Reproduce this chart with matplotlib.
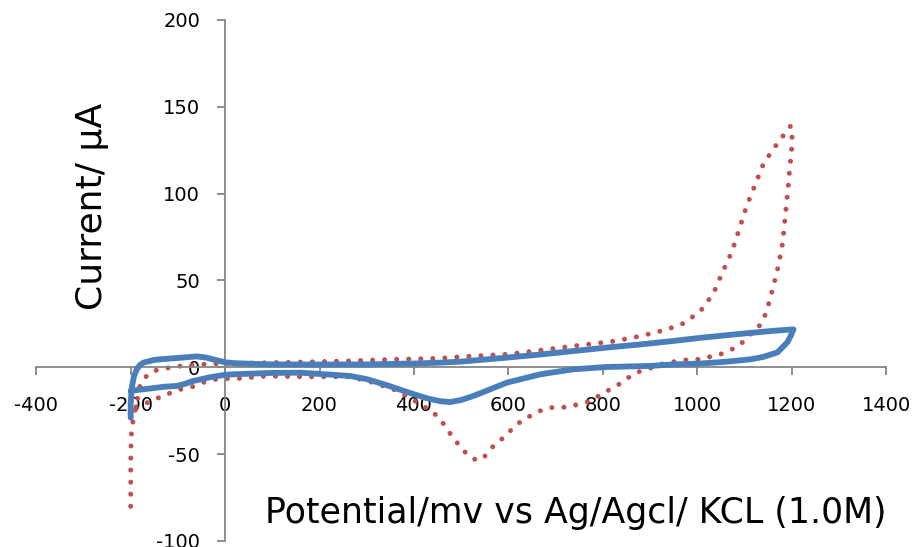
import matplotlib
matplotlib.use("Agg")
import matplotlib.pyplot as plt

# Blue solid CV loop (potential mV, current uA)
blue_x = [-200, -200, -198, -193, -187, -180, -173, -150, -120, -90, -60, -40, -20, 0, 20, 60, 100, 200, 300, 400, 456, 500,
          597, 668, 738, 809, 880, 950, 1007, 1100, 1160, 1200, 1204,
          1198, 1191, 1170, 1140, 1113, 1060, 1007, 950, 901, 809, 738, 668, 597, 560, 526, 500, 477, 456, 430, 400,
          370, 343, 300, 265, 200, 159, 100, 18, 0, -32, -50, -68, -85, -102, -130, -159, -180, -200]
blue_y = [-29, -21, -12, -5, -1.1, 1.5, 2.7, 4.3, 5.0, 5.6, 6.3, 5.6, 4.2, 2.9, 2.4, 2.0, 1.7, 1.6, 1.7, 2.2, 2.7, 3.3,
          5.6, 7.4, 9.4, 11.4, 13.2, 15.2, 17.0, 19.5, 21.0, 21.8, 21.8,
          18, 14.4, 8.6, 6.0, 4.6, 3.2, 2.2, 1.7, 0.8, 0.2, -1.1, -4.0, -8.8, -12.8, -16.5, -18.8, -20.0, -19.5, -18, -15.5,
          -12.8, -10.3, -6.8, -5.0, -3.8, -3.1, -3.2, -4.0, -4.3, -5.7, -6.8, -7.9, -9.5, -10.7, -11.2, -12.2, -12.8, -13.6]

# Red dotted CV loop
red_x = [-200, -200, -199, -197, -193, -187, -180, -165, -152, -125, -100, -60, -32, 0, 50, 88, 159, 250, 364, 456, 498,
         597, 682, 738, 823, 880, 936, 975, 1011, 1035, 1053, 1074, 1090, 1105, 1124, 1141, 1170, 1198,
         1201, 1201, 1199, 1196, 1194, 1192, 1189, 1187, 1184, 1182, 1178, 1173, 1168, 1161, 1155, 1147, 1140, 1126,
         1106, 1092, 1071, 1049, 1027, 1006, 986, 958, 922, 894, 873, 848, 830, 809, 788, 767, 738, 717, 696, 675,
         654, 632, 611, 590, 569, 551, 534, 512, 484, 456, 441, 400, 360, 314, 265, 159, 89, 25, -11, -40, -67, -100,
         -141, -159, -175, -190]
red_y = [-80, -55, -40, -33.7, -28, -20, -10, -4.5, -2.1, -0.5, 0.6, 1.5, 2.0, 2.2, 2.4, 2.6, 3.0, 3.6, 4.6, 5.2, 6.1,
         7.5, 10.3, 12.3, 15.0, 18.0, 21.8, 25.7, 33.7, 42.9, 54.4, 66.9, 80.3, 93.1, 106, 117.6, 129, 139,
         135.8, 129, 121.8, 114.7, 108, 101.3, 94.3, 87.4, 80.7, 73.6, 66.9, 60.2, 53.4, 46.7, 39.7, 32.9, 27.0, 21.8,
         17.6, 13.2, 10.0, 7.5, 6.1, 4.6, 4.6, 3.6, 1.7, -1.1, -2.9, -6.9, -10.7, -13.6, -17, -20, -22, -23, -23, -24,
         -27, -29.9, -34.7, -40.4, -45, -51, -53.8, -50, -41, -30, -26, -19, -13, -8.8, -5.4, -5.4, -5.0, -6.5, -6.4, -8.0, -11, -13,
         -17.5, -20, -21, -23]

x_ticks = [-400, -200, 0, 200, 400, 600, 800, 1000, 1200, 1400]
y_ticks = [-100, -50, 0, 50, 100, 150, 200]

fig = plt.figure(figsize=(9.16, 5.47), dpi=100)
ax = fig.add_axes([36.3 / 916, 1 - 541 / 547, (886 - 36.3) / 916, (541 - 20) / 547])

ax.plot(red_x, red_y, color="#C0504D", lw=3.6, linestyle=(0, (0.01, 2.4)),
        dash_capstyle="round", solid_capstyle="round", zorder=2)
ax.plot(blue_x, blue_y, color="#4A7EBB", lw=4.2, solid_capstyle="round",
        solid_joinstyle="round", zorder=3)

ax.set_xlim(-400, 1400)
ax.set_ylim(-100, 200)
ax.set_xticks(x_ticks)
ax.set_yticks(y_ticks)
ax.set_xticklabels([str(v) for v in x_ticks])
ax.set_yticklabels([str(v) for v in y_ticks])

for s in ["top", "right"]:
    ax.spines[s].set_visible(False)
ax.spines["left"].set_position(("data", 0))
ax.spines["bottom"].set_position(("data", 0))
for s in ["left", "bottom"]:
    ax.spines[s].set_color("#868686")
    ax.spines[s].set_linewidth(1.3)

ax.tick_params(axis="both", direction="out", length=6, width=1.3, color="#868686",
               labelsize=14, labelcolor="#000000")
ax.tick_params(axis="x", pad=15)
ax.tick_params(axis="y", pad=12)
ax.patch.set_alpha(0)

fig.text(92 / 916, 1 - 206 / 547, "Current/ μA", rotation=90, ha="center", va="center",
         fontsize=26, color="#000000")
fig.text(576 / 916, 1 - 513 / 547, "Potential/mv vs Ag/Agcl/ KCL (1.0M)", ha="center", va="center",
         fontsize=25, color="#000000")

fig.savefig("out.png", dpi=100)
